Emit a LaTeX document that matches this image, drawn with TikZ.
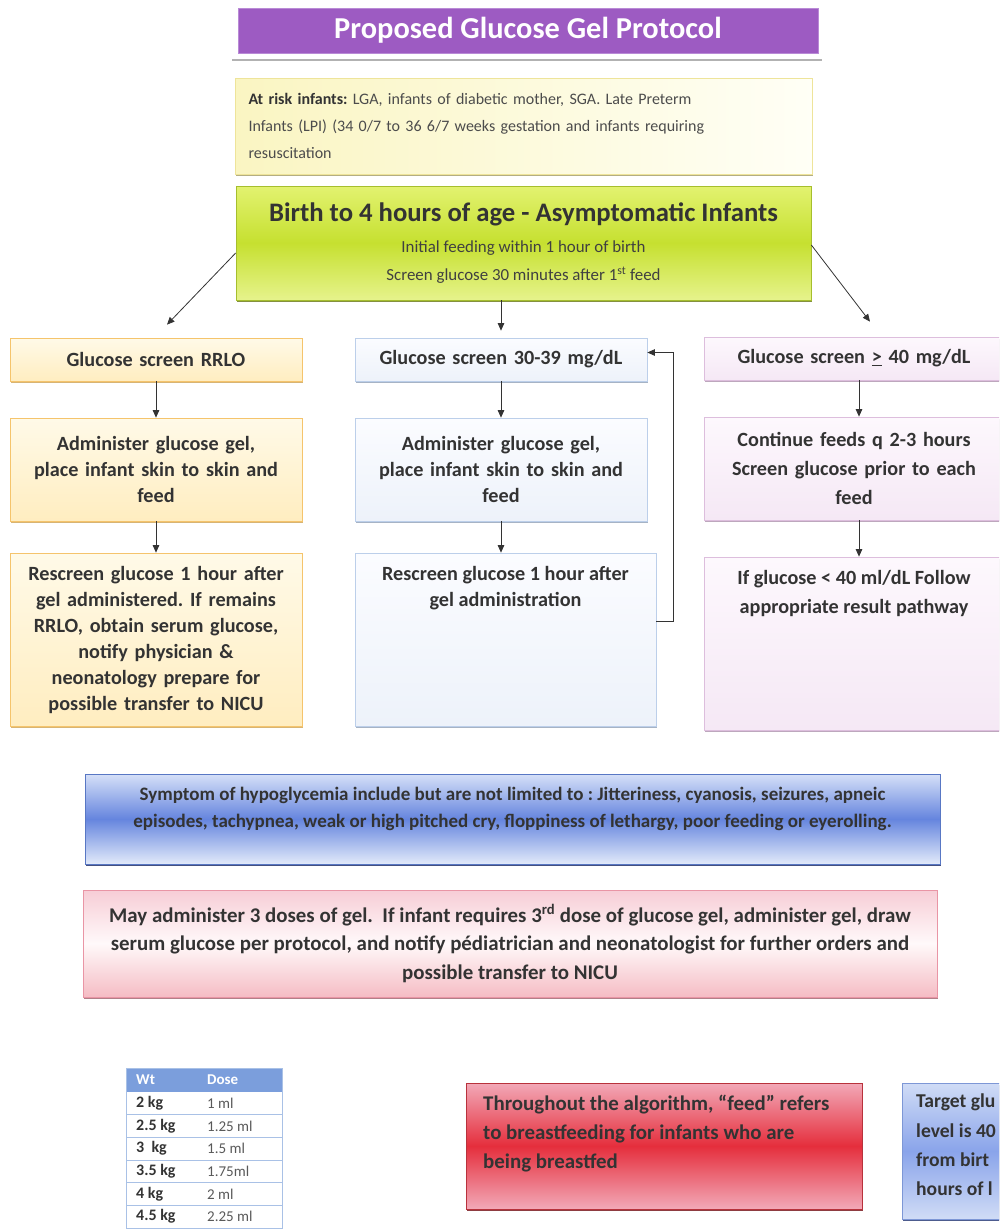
\documentclass[tikz,border=0pt]{standalone}
\usepackage{fontspec}
\setmainfont{Carlito}
\frenchspacing
\usetikzlibrary{shadows,arrows.meta,calc}
\definecolor{txt}{HTML}{333333}
\definecolor{titlep}{HTML}{9D5BC2}
\definecolor{titleb}{HTML}{B98AD6}
\definecolor{riskL}{HTML}{FAF5C2}
\definecolor{riskR}{HTML}{FFFFF6}
\definecolor{riskD}{HTML}{EEE49A}
\definecolor{limeA}{HTML}{E2F270}
\definecolor{limeB}{HTML}{C6E030}
\definecolor{limeC}{HTML}{E6F38C}
\definecolor{limeD}{HTML}{A6BE2E}
\definecolor{limeS}{HTML}{6E7E1C}
\definecolor{orT}{HTML}{FFFAE8}
\definecolor{orB}{HTML}{FFEDC0}
\definecolor{orD}{HTML}{F5C46C}
\definecolor{blT}{HTML}{FBFCFF}
\definecolor{blB}{HTML}{EDF2FA}
\definecolor{blD}{HTML}{BCCFEA}
\definecolor{puT}{HTML}{FDF8FD}
\definecolor{puB}{HTML}{F5E8F5}
\definecolor{puD}{HTML}{DDBEDD}
\definecolor{syT}{HTML}{D6E0F8}
\definecolor{syM}{HTML}{6585DE}
\definecolor{syB}{HTML}{E2EAFA}
\definecolor{syD}{HTML}{5877C4}
\definecolor{syS}{HTML}{25336A}
\definecolor{doT}{HTML}{F7CDD6}
\definecolor{doM}{HTML}{FFF9FA}
\definecolor{doB}{HTML}{F5BCC4}
\definecolor{doD}{HTML}{E995A5}
\definecolor{reT}{HTML}{F2A9B8}
\definecolor{reM}{HTML}{E52E3C}
\definecolor{reD}{HTML}{B8323C}
\definecolor{reS}{HTML}{7A1A20}
\definecolor{btT}{HTML}{D0DCF6}
\definecolor{btM}{HTML}{8AA4EA}
\definecolor{btD}{HTML}{7D97D6}
\definecolor{btS}{HTML}{2E3F7A}
\definecolor{hdr}{HTML}{7B9EDC}
\definecolor{tabl}{HTML}{A9C1E6}
\definecolor{arrc}{HTML}{333333}
\begin{document}
\begin{tikzpicture}[x=1pt,y=-1pt,
  every node/.style={text=txt},
  base/.style={rectangle, inner sep=0pt, line width=0.7pt},
  shad/.style={drop shadow={shadow xshift=1.2pt,shadow yshift=-2.2pt,fill=#1,opacity=0.85}},
  colfont/.style={font=\fontsize{20.2}{26}\selectfont\bfseries},
  rcolfont/.style={font=\fontsize{20.2}{29}\selectfont\bfseries},
  lbox/.style={base, draw=orD, top color=orT, bottom color=orB, shad=orD!85!black, align=center, colfont, text width=288pt, minimum width=292pt},
  mbox/.style={base, draw=blD, top color=blT, bottom color=blB, shad=blD!80!black, align=center, colfont, text width=288pt, minimum width=292pt},
  rbox/.style={base, draw=puD, top color=puT, bottom color=puB, shad=puD!80!black, align=center, rcolfont, text width=296pt, minimum width=300pt},
  arr/.style={draw=arrc, line width=0.8pt, -{Triangle[length=7.5pt,width=6.5pt]}},
]
\useasboundingbox (0,0) rectangle (999,1232);
\clip (0,0) rectangle (999,1232);

% title
\draw[black!30, line width=2pt] (232,60) -- (822,60);
\node[base, fill=titlep, draw=titleb, minimum width=580pt, minimum height=45pt, text=white,
      font=\fontsize{30.4}{34}\selectfont\bfseries] (title) at (528,30.5) {Proposed Glucose Gel Protocol};

% at risk
\node[base, draw=riskD, left color=riskL, right color=riskR, shad=riskD!70!black,
      minimum width=577pt, minimum height=96pt, text width=550pt, align=left,
      font=\fontsize{16}{27}\selectfont, text=black!70] (risk) at (523.5,126)
  {\textbf{\color{txt}At risk infants:}~LGA, infants of diabetic mother, SGA. Late Preterm\\
   Infants (LPI) (34 0/7 to 36 6/7 weeks gestation and infants requiring\\
   resuscitation};

% main box
\node[base, draw=limeD, top color=limeA, bottom color=limeC, middle color=limeB, shad=limeS,
      minimum width=575pt, minimum height=114pt, align=center,
      font=\fontsize{16.9}{28}\selectfont, text=black!75] (main) at (523.5,243)
  {{\fontsize{26.7}{30}\selectfont\bfseries\color{txt} Birth to 4 hours of age - Asymptomatic Infants}\\[3pt]
   Initial feeding within 1 hour of birth\\
   Screen glucose 30 minutes after 1\textsuperscript{st} feed};

% left column
\node[lbox, minimum height=43pt] (L1) at (156,359.5) {Glucose screen RRLO};
\node[lbox, minimum height=103pt] (L2) at (156,469.5) {Administer glucose gel,\\ place infant skin to skin and\\ feed};
\node[lbox, minimum height=173pt] (L3) at (156,639.5) {Rescreen glucose 1 hour after\\ gel administered. If remains\\ RRLO, obtain serum glucose,\\ notify physician \&\\ neonatology prepare for\\ possible transfer to NICU};

% middle column
\node[mbox, minimum height=43pt] (M1) at (501,359.5) {Glucose screen 30-39 mg/dL};
\node[mbox, minimum height=103pt] (M2) at (501,469.5) {Administer glucose gel,\\ place infant skin to skin and\\ feed};
\node[mbox, minimum width=301pt, minimum height=173pt] (M3) at (505.5,639.5) {};
\node[colfont, align=center, anchor=north, inner sep=0pt] (M3t) at ($(M3.north)+(0,13)$) {Rescreen glucose 1 hour after\\ gel administration};

% right column
\node[rbox, minimum height=43pt] (R1) at (854,358.5) {Glucose screen \underline{>} 40 mg/dL};
\node[rbox, minimum height=103pt] (R2) at (854,468.5) {Continue feeds q 2-3 hours\\ Screen glucose prior to each\\ feed};
\node[rbox, minimum height=173pt] (R3) at (854,643.5) {};
\node[rcolfont, align=center, anchor=north, inner sep=0pt] (R3t) at ($(R3.north)+(0,13)$) {If glucose < 40 ml/dL Follow\\ appropriate result pathway};

% connectors
\draw[arr] ($(main.west)+(0,10)$) -- ($(L1.north)+(11,-13)$);
\draw[arr, shorten >=7pt] (main.south -| M1.north) -- (M1.north);
\draw[arr] ($(main.east)+(0,2)$) -- ($(R1.north)+(16,-15)$);
\draw[arr] (L1.south) -- (L2.north);
\draw[arr] (L2.south) -- (L3.north);
\draw[arr] (M1.south) -- (M2.north);
\draw[arr] (M2.south) -- (M2.south |- M3.north);
\draw[arr] ([xshift=5pt]R1.south) -- ([xshift=5pt]R2.north);
\draw[arr] ([xshift=5pt]R2.south) -- ([xshift=5pt]R3.north);
\draw[arr] ($(M3.east)+(0,-18)$) -- ++(17,0) |- ($(M1.east)+(0,-7)$);

% symptoms
\node[base, draw=syD, top color=syT, bottom color=syB, middle color=syM, shad=syS,
      minimum width=855pt, minimum height=90pt] (sym) at (512.5,819) {};
\node[align=center, inner sep=0pt, font=\fontsize{19}{27}\selectfont\bfseries] (symt) at (512.5,808.5)
  {Symptom of hypoglycemia include but are not limited to : Jitteriness, cyanosis, seizures, apneic\\
   episodes, tachypnea, weak or high pitched cry, floppiness of lethargy, poor feeding or eyerolling.};

% doses
\node[base, draw=doD, top color=doT, bottom color=doB, middle color=doM, shad=doD!70!black,
      minimum width=854pt, minimum height=107pt, align=center,
      font=\fontsize{20.9}{28.5}\selectfont\bfseries] (dose) at (510,943.5)
  {May administer 3 doses of gel.\ \ If infant requires 3\textsuperscript{rd} dose of glucose gel, administer gel, draw\\
   serum glucose per protocol, and notify pédiatrician and neonatologist for further orders and\\
   possible transfer to NICU};

% table
\fill[hdr] (126,1068) rectangle (282,1092);
\draw[tabl, line width=0.7pt] (126,1068) rectangle (282,1228);
\foreach \i in {1,...,5} \draw[tabl, line width=0.6pt] (126,{1092+\i*22.67}) -- (282,{1092+\i*22.67});
\node[anchor=west, inner sep=0pt, text=white, font=\fontsize{15}{17}\selectfont\bfseries] (hw) at (136,1080) {Wt};
\node[anchor=west, inner sep=0pt, text=white, font=\fontsize{15}{17}\selectfont\bfseries] (hd) at (207,1080) {Dose};
\foreach \w/\d [count=\i from 0] in {2 kg/1 ml, 2.5 kg/1.25 ml, 3~~kg/1.5 ml, 3.5 kg/1.75ml, 4 kg/2 ml, 4.5 kg/2.25 ml}{
  \node[anchor=west, inner sep=0pt, font=\fontsize{16}{18}\selectfont\bfseries] (w\i) at (136,{1103.3+\i*22.67}) {\w};
  \node[anchor=west, inner sep=0pt, font=\fontsize{15}{17}\selectfont, text=black!65] (d\i) at (207,{1103.3+\i*22.67}) {\d};
}

% red note
\node[base, draw=reD, top color=reT, bottom color=reT, middle color=reM, shad=reS,
      minimum width=396pt, minimum height=126pt] (red) at (664,1146) {};
\node[anchor=north west, inner sep=0pt, align=left, font=\fontsize{20.9}{29}\selectfont\bfseries] (redt) at (483,1095)
  {Throughout the algorithm, “feed” refers\\ to breastfeeding for infants who are\\ being breastfed};

% blue note (its right part lies beyond the picture edge, as in the reference)
\node[base, draw=btD, top color=btT, bottom color=btT, middle color=btM, shad=btS,
      minimum width=200pt, minimum height=136pt] (blue) at (1002,1151) {};
\node[anchor=north west, inner sep=0pt, align=left, font=\fontsize{19.6}{29.3}\selectfont\bfseries] (bluet) at (916,1094)
  {Target glu\\ level is 40\\ from birt\\ hours of l};
\end{tikzpicture}
\end{document}
